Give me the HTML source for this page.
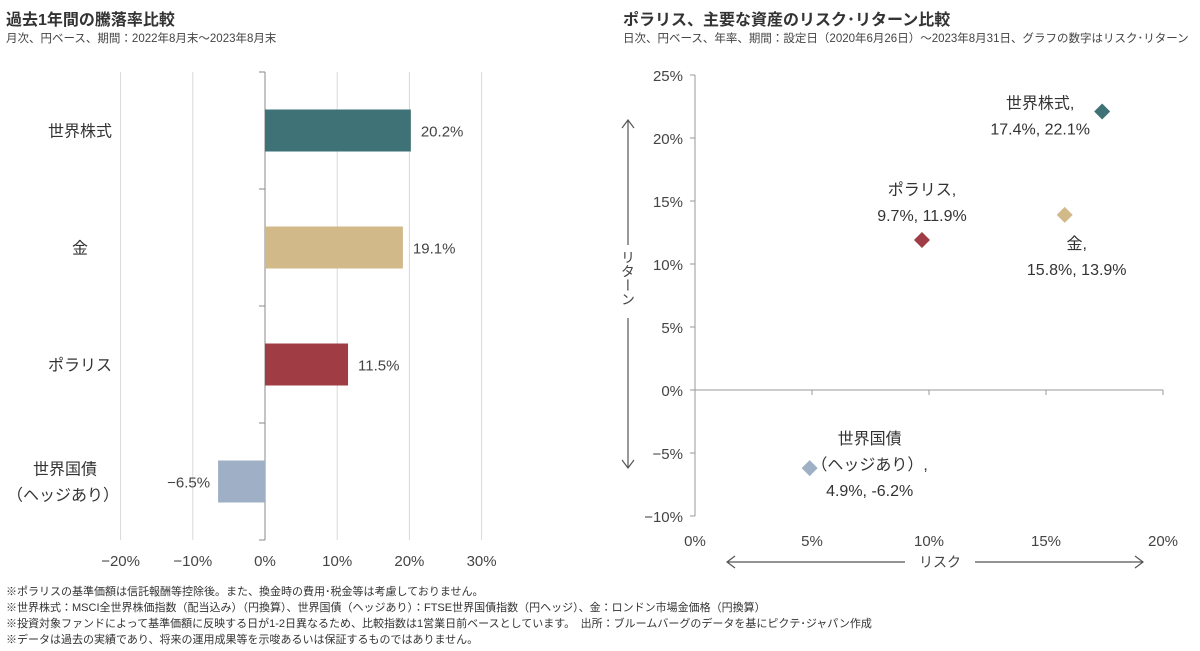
<!DOCTYPE html>
<html><head><meta charset="utf-8"><style>
body{margin:0;width:1200px;height:651px;background:#fff;font-family:"Liberation Sans","Noto Sans CJK JP",sans-serif;color:#333;overflow:hidden;position:relative}
.t{position:absolute;white-space:nowrap}
</style></head><body>
<div class="t" style="left:6px;top:6px;font-size:16px;font-weight:bold;color:#333">過去1年間の騰落率比較</div>
<div class="t" style="left:6px;top:30px;font-size:11.5px;color:#444">月次、円ベース、期間：2022年8月末～2023年8月末</div>
<div class="t" style="left:623px;top:6px;font-size:16px;font-weight:bold;color:#333">ポラリス、主要な資産のリスク･リターン比較</div>
<div class="t" style="left:623px;top:30px;font-size:11.5px;color:#444">日次、円ベース、年率、期間：設定日（2020年6月26日）～2023年8月31日、グラフの数字はリスク･リターン</div>
<svg id="c" width="1200" height="651" style="position:absolute;left:0;top:0" font-family="Liberation Sans, Noto Sans CJK JP, sans-serif"></svg>
<div class="t" style="left:6px;top:584px;font-size:11px;line-height:16px;color:#333">※ポラリスの基準価額は信託報酬等控除後。また、換金時の費用･税金等は考慮しておりません。<br>※世界株式：MSCI全世界株価指数（配当込み）（円換算）、世界国債（ヘッジあり）：FTSE世界国債指数（円ヘッジ）、金：ロンドン市場金価格（円換算）<br>※投資対象ファンドによって基準価額に反映する日が1-2日異なるため、比較指数は1営業日前ベースとしています。　出所：ブルームバーグのデータを基にピクテ･ジャパン作成<br>※データは過去の実績であり、将来の運用成果等を示唆あるいは保証するものではありません。</div>
<script>
const barCats=["世界株式","金","ポラリス","世界国債\n（ヘッジあり）"];
const barVals=[20.2,19.1,11.5,-6.5];
const barColors=["#3f7277","#d2b98a","#a03c43","#9eafc6"];
const barTicks=[-20,-10,0,10,20,30];
const scNames=["世界株式","ポラリス","金","世界国債"];
const scRisk=[17.4,9.7,15.8,4.9];
const scRet=[22.1,11.9,13.9,-6.2];
const scColors=["#3f7277","#a03c43","#d2b98a","#9eafc6"];
const yTicks=[25,20,15,10,5,0,-5,-10];
const xTicks=[0,5,10,15,20];
const NS="http://www.w3.org/2000/svg";
const svg=document.getElementById('c');
function mk(t,a,txt){const e=document.createElementNS(NS,t);for(const k in a)e.setAttribute(k,a[k]);if(txt!==undefined)e.textContent=txt;svg.appendChild(e);return e;}
const bx=v=>265+v*7.22, plotTop=72, plotBot=540, bandH=(plotBot-plotTop)/barCats.length;
barTicks.forEach(v=>{
 const l=mk('line',{x1:bx(v),x2:bx(v),y1:plotTop,y2:plotBot,stroke:v===0?'#888':'#d9d9d9','stroke-width':1});
 
 
 const t=mk('text',{x:bx(v),y:566,'font-size':15,'text-anchor':'middle',fill:'#444'},(v<0?'−':'')+Math.abs(v)+'%');
 
 
});
for(let i=0;i<=barCats.length;i++){const l=mk('line',{x1:259,x2:265,y1:plotTop+i*bandH,y2:plotTop+i*bandH,stroke:'#888'});
 
 }
barCats.forEach((c,i)=>{
 const cy=plotTop+bandH*(i+0.5), v=barVals[i], h=42;
 const r=mk('rect',{x:Math.min(bx(0),bx(v)),y:cy-h/2,width:Math.abs(bx(v)-bx(0)),height:h,fill:barColors[i]});
 
 
 const lt=mk('text',{x:v>=0?bx(v)+10:bx(v)-8,y:cy+6,'font-size':15,'text-anchor':v>=0?'start':'end',fill:'#444'},(v<0?'−':'')+Math.abs(v).toFixed(1)+'%');
 
 
 const parts=c.split('\n');
 parts.forEach((p,j)=>{const t=mk('text',{x:parts.length>1?(j?63:65):80,y:cy+6+(j-(parts.length-1)/2)*26,'font-size':16,'text-anchor':'middle',fill:'#333'},p);
 
 });
});
const sx=v=>695+v*23.4, sy=v=>390-v*12.6;
const ya=mk('line',{x1:695,x2:695,y1:sy(25),y2:sy(-10),stroke:'#999'});


const xa=mk('line',{x1:695,x2:1163,y1:sy(0),y2:sy(0),stroke:'#999'});


yTicks.forEach(v=>{
 mk('line',{x1:690,x2:695,y1:sy(v),y2:sy(v),stroke:'#999'});
 const t=mk('text',{x:683,y:sy(v)+6,'font-size':15,'text-anchor':'end',fill:'#444'},(v<0?'−':'')+Math.abs(v)+'%');
 
 
});
xTicks.forEach(v=>{
 mk('line',{x1:sx(v),x2:sx(v),y1:sy(0),y2:sy(0)+5,stroke:'#999'});
 const t=mk('text',{x:sx(v),y:546,'font-size':15,'text-anchor':'middle',fill:'#444'},v+'%');
 
 
});
const labs=[[["世界株式,",-62,-3],["17.4%, 22.1%",-62,23]],[["ポラリス,",0,-45],["9.7%, 11.9%",0,-19]],[["金,",12,34],["15.8%, 13.9%",12,60]],[["世界国債",60,-24],["（ヘッジあり）,",60,2],["4.9%, -6.2%",60,28]]];
scNames.forEach((n,i)=>{
 const x=sx(scRisk[i]),y=sy(scRet[i]),s=8;
 const p=mk('polygon',{points:`${x},${y-s} ${x+s},${y} ${x},${y+s} ${x-s},${y}`,fill:scColors[i]});
 
 
 labs[i].forEach(([txt,dx,dy])=>{const t=mk('text',{x:x+dx,y:y+dy,'font-size':16,'text-anchor':'middle',fill:'#333'},txt);
 
 });
});
const va=mk('path',{d:'M628,120 V245 M628,318 V468 M622,128 L628,120 L634,128 M622,460 L628,468 L634,460',stroke:'#555',fill:'none','stroke-width':1.2});


const rt=mk('text',{x:628,y:250,'font-size':14,fill:'#444','writing-mode':'tb','text-anchor':'start'},'リターン');


const ha=mk('path',{d:'M727,562 H905 M975,562 H1143 M735,556 L727,562 L735,568 M1135,556 L1143,562 L1135,568',stroke:'#555',fill:'none','stroke-width':1.2});


const xt=mk('text',{x:940,y:567,'font-size':14,fill:'#444','text-anchor':'middle'},'リスク');


</script>
</body></html>
